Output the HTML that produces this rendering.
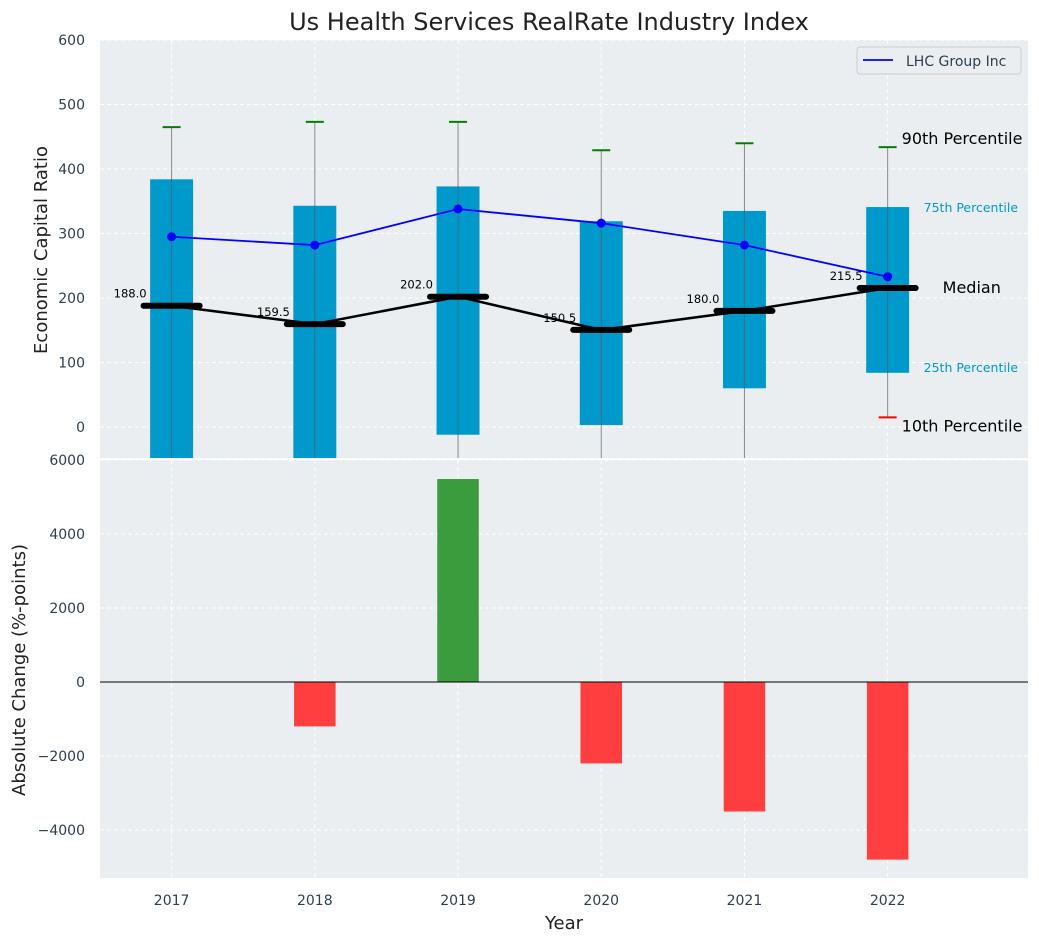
<!DOCTYPE html>
<html><head><meta charset="utf-8"><style>
body{margin:0;background:#fff;font-family:"Liberation Sans","DejaVu Sans",sans-serif}
svg text{font-family:"DejaVu Sans","Liberation Sans",sans-serif}
</style></head><body>
<svg id="c" width="1039" height="942"></svg>
<script>
const years=[2017,2018,2019,2020,2021,2022];
const p10=[-100,-100,-100,-100,-100,15];
const p25=[-100,-100,-12,3,60,84];
const p75=[384,343,373,319,335,341];
const p90=[465,473,473,429,440,434];
const medians=[188,159.5,202,150.5,180,215.5];
const lhc=[295,282,338,316,282,233];
const changes=[0,-1200,5486,-2200,-3500,-4800];
const topTicks=[0,100,200,300,400,500,600];
const botTicks=[-4000,-2000,0,2000,4000,6000];
const svg=document.getElementById('c');
const NS='http://www.w3.org/2000/svg';
function el(t,a,p){const e=document.createElementNS(NS,t);for(const k in a)e.setAttribute(k,a[k]);(p||svg).appendChild(e);return e;}
const L=100,R=1028;
const XMAX=2022.98;
const x=v=>L+(v-2016.5)/(XMAX-2016.5)*(R-L);
const T0=40,T1=458,yT=v=>427-v*0.645;
const B0=460,B1=878,yB=v=>682-v*0.037;
let e;
e=el('rect',{x:L,y:T0,width:R-L,height:T1-T0,fill:'#eaeef0'});
e=el('rect',{x:L,y:B0,width:R-L,height:B1-B0,fill:'#eaeef0'});
years.forEach(yr=>{el('line',{x1:x(yr),x2:x(yr),y1:T0,y2:T1,stroke:'#fff','stroke-dasharray':'4,3'});el('line',{x1:x(yr),x2:x(yr),y1:B0,y2:B1,stroke:'#fff','stroke-dasharray':'4,3'});
 e=el('text',{x:x(yr),y:905,'text-anchor':'middle','font-size':14,fill:'#2c3e50'});e.textContent=yr;});
topTicks.forEach(t=>{el('line',{x1:L,x2:R,y1:yT(t),y2:yT(t),stroke:'#fff','stroke-dasharray':'4,3'});
 e=el('text',{x:85,y:yT(t)+5,'text-anchor':'end','font-size':14,fill:'#2c3e50'});e.textContent=t;});
botTicks.forEach(t=>{el('line',{x1:L,x2:R,y1:yB(t),y2:yB(t),stroke:'#fff','stroke-dasharray':'4,3'});
 e=el('text',{x:85,y:yB(t)+5,'text-anchor':'end','font-size':14,fill:'#2c3e50'});e.textContent=(t<0?'\u2212'+(-t):t);});
const clipT=el('clipPath',{id:'ct'});el('rect',{x:L,y:T0,width:R-L,height:T1-T0},clipT);
const g=el('g',{'clip-path':'url(#ct)'});
const bw=0.3*(R-L)/(XMAX-2016.5);
years.forEach((yr,i)=>{const cx=x(yr);
 e=el('line',{x1:cx,x2:cx,y1:yT(p90[i]),y2:yT(p10[i]),stroke:'#888','stroke-width':1},g);
 e=el('rect',{x:cx-bw/2,y:yT(p75[i]),width:bw,height:yT(p25[i])-yT(p75[i]),fill:'#0099cc'},g);
 el('line',{x1:cx,x2:cx,y1:yT(p75[i]),y2:yT(p25[i]),stroke:'#555','stroke-width':1,opacity:0.6},g);
 e=el('line',{x1:cx-9,x2:cx+9,y1:yT(p90[i]),y2:yT(p90[i]),stroke:'green','stroke-width':2},g);
 e=el('line',{x1:cx-9,x2:cx+9,y1:yT(p10[i]),y2:yT(p10[i]),stroke:'red','stroke-width':2},g);
});
e=el('polyline',{points:years.map((yr,i)=>x(yr)+','+yT(medians[i])).join(' '),fill:'none',stroke:'#000','stroke-width':2.5},g);
years.forEach((yr,i)=>{const cx=x(yr);
 e=el('line',{x1:cx-28,x2:cx+28,y1:yT(medians[i]),y2:yT(medians[i]),stroke:'#000','stroke-width':6,'stroke-linecap':'round'},g);
 e=el('text',{x:cx-25,y:yT(medians[i])-8,'text-anchor':'end','font-size':11.5,fill:'#000'});e.textContent=medians[i].toFixed(1);
});
e=el('polyline',{points:years.map((yr,i)=>x(yr)+','+yT(lhc[i])).join(' '),fill:'none',stroke:'blue','stroke-width':1.8},g);
years.forEach((yr,i)=>{e=el('circle',{cx:x(yr),cy:yT(lhc[i]),r:4.5,fill:'blue'},g);});
const lx=x(2022);
[['90th Percentile',lx+14,yT(p90[5])-3,16,'#000'],['75th Percentile',lx+36,yT(p75[5])+5,12.5,'#0099cc'],['Median',lx+55,yT(medians[5])+5,16,'#000'],['25th Percentile',lx+36,yT(p25[5])-1,12.5,'#0099cc'],['10th Percentile',lx+14,yT(p10[5])+14,16,'#000']].forEach(a=>{
 e=el('text',{x:a[1],y:a[2],'font-size':a[3],fill:a[4]});e.textContent=a[0];});
e=el('rect',{x:857,y:47,width:164,height:27,fill:'#eaeef0',stroke:'#ccc',rx:3});
el('line',{x1:863,x2:893,y1:60,y2:60,stroke:'blue','stroke-width':1.8});
e=el('text',{x:906,y:66,'font-size':14,fill:'#2c3e50'});e.textContent='LHC Group Inc';
const bbw=0.29*(R-L)/(XMAX-2016.5);
years.forEach((yr,i)=>{const v=changes[i];if(v===0)return;const y0=yB(Math.max(v,0)),y1=yB(Math.min(v,0));
 e=el('rect',{x:x(yr)-bbw/2,y:y0,width:bbw,height:y1-y0,fill:v>0?'#3a9c3d':'#ff3f3f'});});
el('line',{x1:L,x2:R,y1:yB(0),y2:yB(0),stroke:'#000','stroke-width':1});
el('line',{x1:L,x2:R,y1:459,y2:459,stroke:'#fff','stroke-width':2});
e=el('text',{x:549,y:30,'text-anchor':'middle','font-size':24,fill:'#222'});e.textContent='Us Health Services RealRate Industry Index';
e=el('text',{x:0,y:0,'text-anchor':'middle','font-size':18,fill:'#222',transform:'translate(47,250) rotate(-90)'});e.textContent='Economic Capital Ratio';
e=el('text',{x:0,y:0,'text-anchor':'middle','font-size':18,fill:'#222',transform:'translate(25,670) rotate(-90)'});e.textContent='Absolute Change (%-points)';
e=el('text',{x:564,y:929,'text-anchor':'middle','font-size':18,fill:'#222'});e.textContent='Year';
</script></body></html>
